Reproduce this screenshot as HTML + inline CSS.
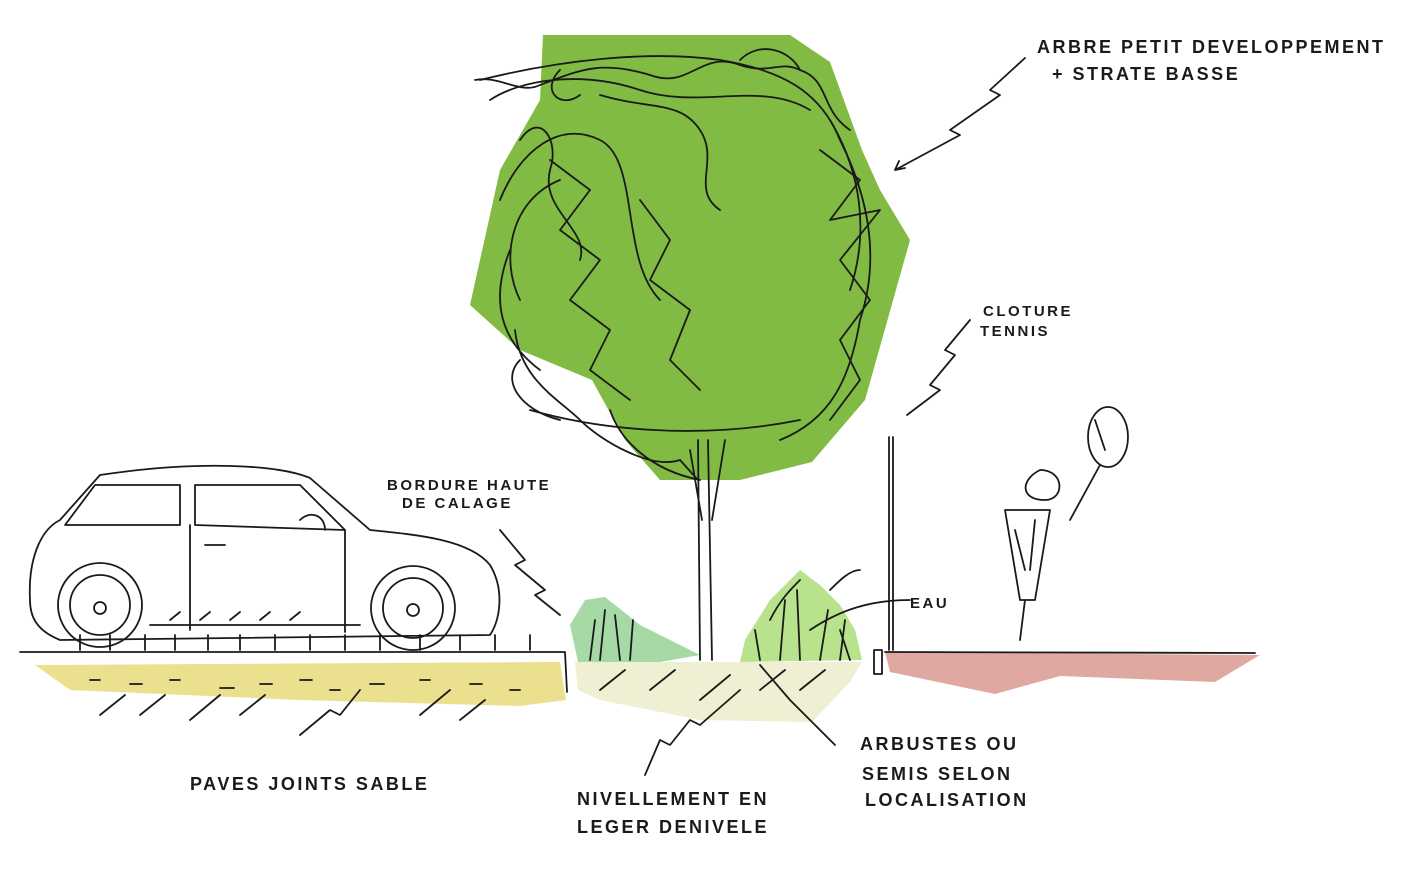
<!DOCTYPE html>
<html><head><meta charset="utf-8"><style>
html,body{margin:0;padding:0;background:#fff;}
svg{display:block}
text{font-family:"Liberation Sans",sans-serif;font-size:18px;fill:#1a1a1a;letter-spacing:2.5px;font-weight:bold;}
</style></head><body>
<svg width="1410" height="883" viewBox="0 0 1410 883" xmlns="http://www.w3.org/2000/svg">
<rect width="1410" height="883" fill="#fff"/>
<polygon points="35,665 560,662 566,700 520,706 300,700 70,690" fill="#ebe08e"/>
<polygon points="575,662 862,662 850,682 812,722 700,720 600,700 578,690" fill="#efefd4"/>
<polygon points="885,652 1260,655 1215,682 1060,676 995,694 890,672" fill="#dfa9a1"/>
<polygon points="570,625 585,600 605,597 640,625 670,640 700,655 660,662 578,662" fill="#a6d9a6"/>
<polygon points="745,640 770,600 800,570 820,585 840,605 855,630 862,660 740,662" fill="#b8e28c"/>
<polygon points="543,35 790,35 830,62 862,150 880,190 910,240 865,400 812,462 740,480 660,480 625,440 592,380 520,350 470,305 500,170 540,100" fill="#82bb44"/>
<g fill="none" stroke="#1a1a1a" stroke-width="1.8" stroke-linecap="round" stroke-linejoin="round">
<path d="M480,80 C560,60 650,50 720,60 C780,70 820,90 840,140 C870,200 880,260 860,320 C850,380 830,420 780,440"/>
<path d="M490,100 C520,80 580,70 640,90 C700,110 760,80 810,110"/>
<path d="M475,80 C500,75 520,95 540,85 C580,70 600,60 650,75 C690,90 700,50 740,65 C770,75 780,60 800,70 C830,80 820,110 850,130"/>
<path d="M500,200 C520,150 560,120 600,140 C640,160 620,260 660,300"/>
<path d="M520,300 C500,260 510,200 560,180"/>
<path d="M560,420 C520,410 500,380 520,360"/>
<path d="M700,480 C650,470 620,440 610,410"/>
<path d="M830,120 C860,170 870,230 850,290"/>
<path d="M530,410 C600,430 700,440 800,420"/>
<path d="M550,160 L590,190 L560,230 L600,260 L570,300 L610,330 L590,370 L630,400"/>
<path d="M520,140 C540,110 560,140 550,170 C540,210 590,230 580,260 M600,95 C650,110 680,100 700,130 C720,160 690,190 720,210 M640,200 L670,240 L650,280 L690,310 L670,360 L700,390"/>
<path d="M820,150 L860,180 L830,220 L880,210 L840,260 L870,300 L840,340 L860,380 L830,420"/>
<path d="M510,250 C490,300 500,340 540,370 M515,330 C520,380 560,400 580,420 C600,440 650,470 680,460"/>
<path d="M740,60 C760,40 790,50 800,70 M560,70 C540,90 560,110 580,95"/>
<path d="M698,440 L700,660 M708,440 L712,660 M690,450 L702,520 M725,440 L712,520 M680,460 L698,480"/>
<path d="M889,437 L889,650 M893,437 L893,650"/>
<rect x="874" y="650" width="8" height="24"/>
<path d="M20,652 L565,652 M565,652 L567,692 M885,652 L1255,653"/>
<path d="M80,650 v-15 M110,650 v-15 M145,650 v-15 M175,650 v-15 M208,650 v-15 M240,650 v-15 M275,650 v-15 M310,650 v-15 M345,650 v-15 M380,650 v-15 M420,650 v-15 M460,650 v-15 M495,650 v-15 M530,650 v-15"/>
<path d="M100,715 l25,-20 M140,715 l25,-20 M190,720 l30,-25 M240,715 l25,-20 M420,715 l30,-25 M460,720 l25,-20 M600,690 l25,-20 M650,690 l25,-20 M700,700 l30,-25 M760,690 l25,-20 M800,690 l25,-20"/>
<path d="M90,680 h10 M130,684 h12 M170,680 h10 M220,688 h14 M260,684 h12 M300,680 h12 M330,690 h10 M370,684 h14 M420,680 h10 M470,684 h12 M510,690 h10"/>
<path d="M30,600 C28,560 40,530 60,520 L100,475 C200,460 280,465 310,478 L370,530 C420,535 470,540 490,565 C505,590 500,620 490,635 L60,640 C35,630 30,615 30,600 Z"/>
<path d="M95,485 L180,485 L180,525 L65,525 Z M195,485 L300,485 L345,530 L195,525 Z M190,525 L190,630 M345,530 L345,632 M300,520 C310,510 325,515 325,530"/>
<circle cx="100" cy="605" r="42"/><circle cx="100" cy="605" r="30"/><circle cx="100" cy="608" r="6"/>
<circle cx="413" cy="608" r="42"/><circle cx="413" cy="608" r="30"/><circle cx="413" cy="610" r="6"/>
<path d="M150,625 L360,625 M205,545 h20 M170,620 l10,-8 M200,620 l10,-8 M230,620 l10,-8 M260,620 l10,-8 M290,620 l10,-8"/>
<path d="M590,660 l5,-40 M600,660 l5,-50 M620,660 l-5,-45 M630,660 l3,-40 M760,660 l-5,-30 M780,660 l5,-60 M800,660 l-3,-70 M820,660 l8,-50 M840,660 l5,-40 M850,660 l-10,-30 M770,620 c10,-20 20,-30 30,-40 M830,590 c10,-10 20,-20 30,-20"/>
<ellipse cx="1108" cy="437" rx="20" ry="30"/>
<path d="M1100,465 L1070,520 M1040,470 c-20,10 -20,30 5,30 c20,0 20,-30 -5,-30 M1005,510 L1050,510 L1035,600 L1020,600 Z M1025,600 L1020,640 M1095,420 L1105,450 M1015,530 l10,40 M1035,520 l-5,50"/>
<path d="M1025,58 L990,90 L1000,95 L950,130 L960,135 L895,170 M895,170 l10,-2 M895,170 l4,-9"/>
<path d="M970,320 L945,350 L955,355 L930,385 L940,390 L907,415"/>
<path d="M500,530 L525,560 L515,565 L545,590 L535,595 L560,615"/>
<path d="M300,735 L330,710 L340,715 L360,690"/>
<path d="M645,775 L660,740 L670,745 L690,720 L700,725 L740,690"/>
<path d="M835,745 L790,700 L760,665"/>
<path d="M910,600 C870,600 840,610 810,630"/>
</g>
<text x="1037" y="53">ARBRE  PETIT DEVELOPPEMENT</text>
<text x="1052" y="80">+  STRATE  BASSE</text>
<text x="983" y="316" style="font-size:15px">CLOTURE</text>
<text x="980" y="336" style="font-size:15px">TENNIS</text>
<text x="387" y="490" style="font-size:15px">BORDURE  HAUTE</text>
<text x="402" y="508" style="font-size:15px">DE  CALAGE</text>
<text x="910" y="608" style="font-size:15px">EAU</text>
<text x="190" y="790">PAVES  JOINTS  SABLE</text>
<text x="577" y="805">NIVELLEMENT  EN</text>
<text x="577" y="833">LEGER  DENIVELE</text>
<text x="860" y="750">ARBUSTES  OU</text>
<text x="862" y="780">SEMIS  SELON</text>
<text x="865" y="806">LOCALISATION</text>
</svg>
</body></html>
